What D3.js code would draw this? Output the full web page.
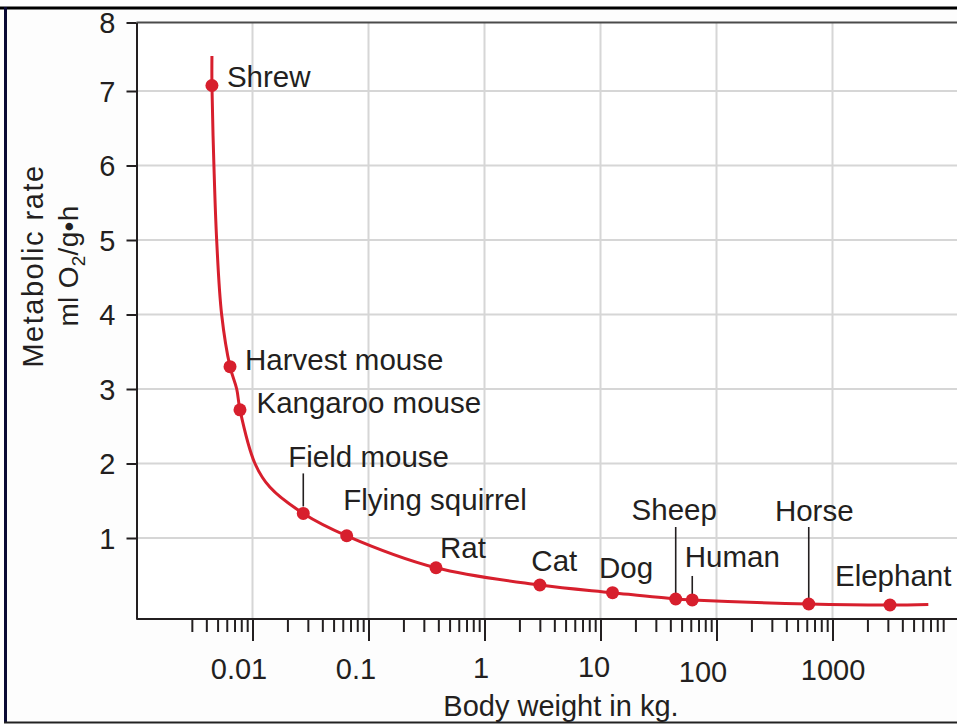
<!DOCTYPE html>
<html>
<head>
<meta charset="utf-8">
<script src="https://cdn.jsdelivr.net/npm/d3@7"></script>
<style>
  body { margin: 0; background: #ffffff; }
  svg { display: block; font-family: "Liberation Sans", Arial, sans-serif; }
</style>
</head>
<body>
<div id="chart"></div>
<script>
// animals plotted on the curve (body weight kg, metabolic rate ml O2/g·h)
const animals = ["Shrew", "Harvest mouse", "Kangaroo mouse", "Field mouse", "Flying squirrel", "Rat", "Cat", "Dog", "Sheep", "Human", "Horse", "Elephant"];
const weights = [0.00447, 0.0064, 0.0078, 0.0274, 0.0649, 0.382, 3.0, 12.7, 44.5, 61.8, 624, 3130];
const rates = [7.08, 3.30, 2.72, 1.33, 1.03, 0.633, 0.42, 0.325, 0.247, 0.235, 0.185, 0.173];

// points
const curveWeights = [0.00447, 0.00447, 0.00465, 0.00491, 0.00542, 0.0064, 0.00731, 0.0078, 0.0105, 0.01416, 0.0274, 0.0649, 0.382, 3.0, 12.7, 44.5, 61.8, 624, 3130, 6700];
const curveRates = [7.51, 7.08, 6, 5, 4, 3.30, 3, 2.72, 2, 1.68, 1.33, 1.03, 0.633, 0.42, 0.325, 0.247, 0.235, 0.185, 0.173, 0.18];

// axis ticks
const yTicks = [1, 2, 3, 4, 5, 6, 7, 8];
const xMajor = [0.01, 0.1, 1, 10, 100, 1000];
const xMajorLabels = ["0.01", "0.1", "1", "10", "100", "1000"];
const xMinor = [0.003, 0.004, 0.005, 0.006, 0.007, 0.008, 0.009]
  .concat(d3.range(2, 10).map(d => d * 0.01))
  .concat(d3.range(2, 10).map(d => d * 0.1))
  .concat(d3.range(2, 10))
  .concat(d3.range(2, 10).map(d => d * 10))
  .concat(d3.range(2, 10).map(d => d * 100))
  .concat(d3.range(2, 10).map(d => d * 1000));

// label placement relative to each dot: [dx, dy, anchor]
const labelPos = [
  [15, 1, "start"], [15, 3, "start"], [16.5, 3.5, "start"], [-15, -46.5, "start"],
  [-3.5, -25.5, "start"], [4, -9.5, "start"], [-8.5, -13.5, "start"], [-13.5, -14.5, "start"],
  [-1.5, -78.5, "middle"], [-7.5, -32.5, "start"], [5.5, -83.5, "middle"], [-55, -18.5, "start"]
];
// leader lines: [animal index, from dy, to dy]
const leaders = [[3, -40, -7], [8, -72, -3], [9, -24, -5], [10, -77, -6]];
// small shifts of the x tick labels as set in the figure: [dx, baseline]
const xLabelPos = [[-14, 679], [-13, 679], [-4, 678], [-7, 677], [-14, 682], [0, 680]];

const width = 957, height = 725;
const red = "#d71f2d", ink = "#231f20";

const x = d3.scaleLog().domain([0.001, 12000]).range([136.5, 136.5 + 116 * Math.log10(12e6)]);
// the printed axis is not evenly spaced at its ends
const y = d3.scaleLinear().domain([0, 1, 7, 8]).range([619, 538, 91, 22.5]);

const svg = d3.select("#chart").append("svg")
  .attr("width", width)
  .attr("height", height);

// frame
svg.append("rect").attr("x", 5).attr("y", 7).attr("width", width).attr("height", 715).attr("fill", "#fdfdfd");
svg.append("line").attr("x1", 0).attr("x2", width).attr("y1", 8).attr("y2", 8).attr("stroke", "#000").attr("stroke-width", 3);
svg.append("line").attr("x1", 5.5).attr("x2", 5.5).attr("y1", 7).attr("y2", 723).attr("stroke", "#0b0b35").attr("stroke-width", 3);
svg.append("line").attr("x1", 4).attr("x2", width).attr("y1", 722.5).attr("y2", 722.5).attr("stroke", "#222").attr("stroke-width", 2);

// plot background
svg.append("rect").attr("x", x(0.001)).attr("y", y(8)).attr("width", width - x(0.001)).attr("height", y(0) - y(8)).attr("fill", "#ffffff");

// grid
svg.append("g").selectAll("line").data(xMajor).join("line")
  .attr("x1", d => x(d)).attr("x2", d => x(d))
  .attr("y1", y(8)).attr("y2", y(0))
  .attr("stroke", "#d6d6d6").attr("stroke-width", 2);
svg.append("g").selectAll("line").data(yTicks.filter(d => d < 8)).join("line")
  .attr("x1", x(0.001)).attr("x2", width)
  .attr("y1", d => y(d)).attr("y2", d => y(d))
  .attr("stroke", "#d6d6d6").attr("stroke-width", 2);
svg.append("line")
  .attr("x1", x(0.001)).attr("x2", width)
  .attr("y1", y(8)).attr("y2", y(8))
  .attr("stroke", "#4a4a4a").attr("stroke-width", 2);

// y axis
const yAxis = svg.append("g")
  .attr("transform", `translate(${x(0.001)},0)`)
  .call(d3.axisLeft(y).tickValues(yTicks).tickSize(10).tickSizeOuter(0).tickPadding(11));
yAxis.select(".domain").attr("stroke", ink).attr("stroke-width", 2);
yAxis.selectAll(".tick line").attr("stroke", ink).attr("stroke-width", 2);
yAxis.selectAll(".tick text").attr("fill", ink).style("font-size", "29px").attr("dy", "0.36em");

// x axis: minor then major ticks
const xMinorAxis = svg.append("g")
  .attr("transform", `translate(0,${y(0)})`)
  .call(d3.axisBottom(x).tickValues(xMinor).tickSize(13).tickSizeOuter(0).tickFormat(""));
xMinorAxis.select(".domain").remove();
xMinorAxis.selectAll(".tick line").attr("stroke", ink).attr("stroke-width", 2);

const xAxis = svg.append("g")
  .attr("transform", `translate(0,${y(0)})`)
  .call(d3.axisBottom(x).tickValues(xMajor).tickSize(22).tickSizeOuter(0).tickFormat((d, i) => xMajorLabels[i]));
xAxis.select(".domain").attr("d", `M${x(0.001)},0H${width}`).attr("stroke", ink).attr("stroke-width", 2);
xAxis.selectAll(".tick line").attr("stroke", ink).attr("stroke-width", 2);
xAxis.selectAll(".tick text")
  .attr("fill", ink).style("font-size", "29px")
  .attr("dy", null)
  .attr("x", (d, i) => xLabelPos[i][0])
  .attr("y", (d, i) => xLabelPos[i][1] - y(0));

// axis titles
svg.append("text")
  .attr("x", 561).attr("y", 716)
  .attr("text-anchor", "middle")
  .attr("fill", ink).style("font-size", "29px")
  .text("Body weight in kg.");

const yTitle = svg.append("text")
  .attr("transform", "translate(43,266) rotate(-90)")
  .attr("text-anchor", "middle")
  .attr("fill", ink).style("font-size", "29px").style("letter-spacing", "1.5px");
yTitle.append("tspan").attr("x", 0).attr("y", 0).text("Metabolic rate");

const yUnit = svg.append("text")
  .attr("transform", "translate(78,266) rotate(-90)")
  .attr("text-anchor", "middle")
  .attr("fill", ink).style("font-size", "28px").style("letter-spacing", "0.3px");
yUnit.append("tspan").text("ml O");
yUnit.append("tspan").attr("dy", 7).style("font-size", "19px").text("2");
yUnit.append("tspan").attr("dy", -7).text("/g\u2022h");

// curve
const curvePts = curveWeights.map((w, i) => [w, curveRates[i]]);
svg.append("path")
  .datum(curvePts)
  .attr("fill", "none")
  .attr("stroke", red)
  .attr("stroke-width", 3)
  .attr("d", d3.line().x(d => x(d[0])).y(d => y(d[1])).curve(d3.curveCatmullRom.alpha(0.5)));

// leader lines
svg.append("g").selectAll("line").data(leaders).join("line")
  .attr("x1", d => x(weights[d[0]])).attr("x2", d => x(weights[d[0]]))
  .attr("y1", d => y(rates[d[0]]) + d[1]).attr("y2", d => y(rates[d[0]]) + d[2])
  .attr("stroke", ink).attr("stroke-width", 1.6);

// dots
svg.append("g").selectAll("circle").data(animals).join("circle")
  .attr("cx", (d, i) => x(weights[i]))
  .attr("cy", (d, i) => y(rates[i]))
  .attr("r", 6.5)
  .attr("fill", red);

// labels
svg.append("g").selectAll("text").data(animals).join("text")
  .attr("x", (d, i) => x(weights[i]) + labelPos[i][0])
  .attr("y", (d, i) => y(rates[i]) + labelPos[i][1])
  .attr("text-anchor", (d, i) => labelPos[i][2])
  .attr("fill", ink)
  .style("font-size", "29.5px")
  .text(d => d);
</script>
</body>
</html>
